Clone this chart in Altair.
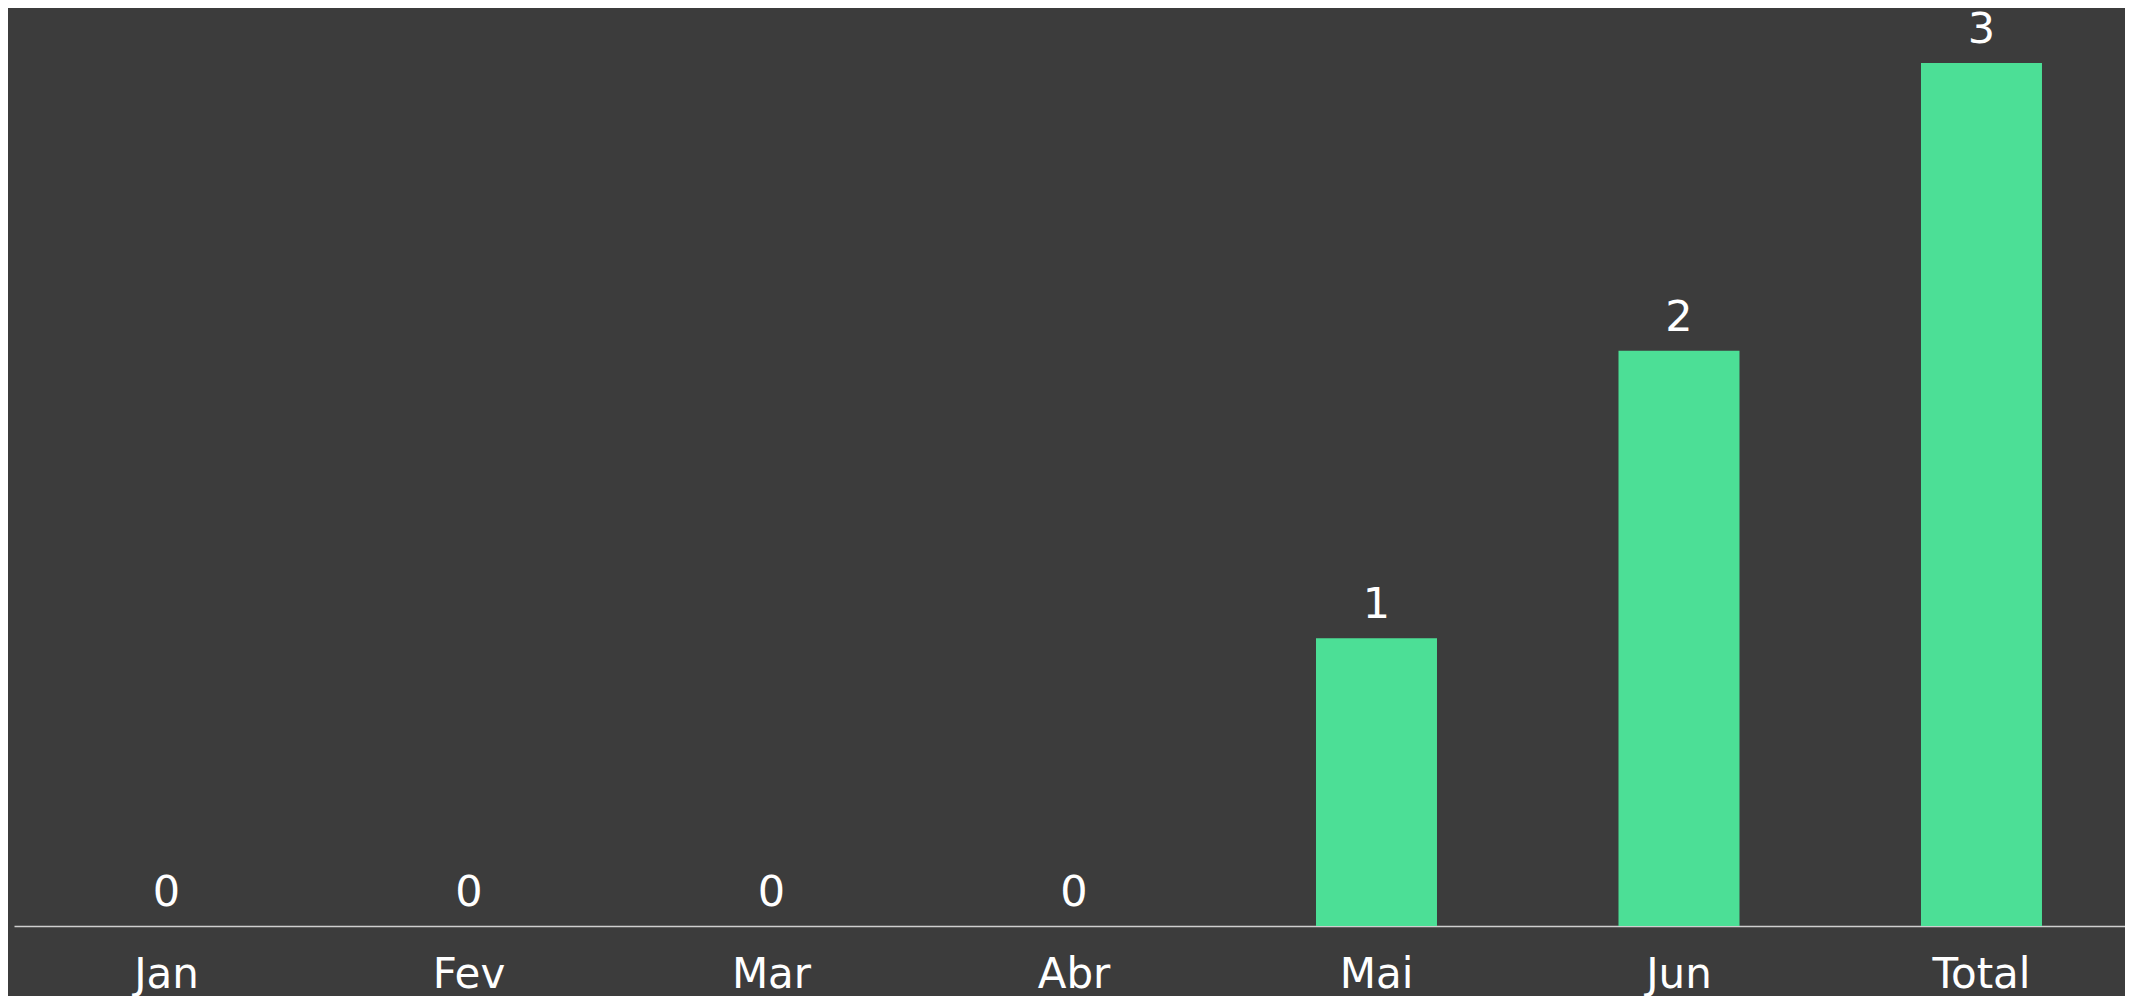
import altair as alt
import pandas as pd

categories = ["Jan", "Fev", "Mar", "Abr", "Mai", "Jun", "Total"]
values = [0, 0, 0, 0, 1, 2, 3]

df = pd.DataFrame({"mes": categories, "valor": values})

BG = "#3c3c3c"
BAR = "#4cdf96"
FONT = "DejaVu Sans"

x_enc = alt.X(
    "mes:N",
    sort=categories,
    title=None,
    scale=alt.Scale(paddingInner=0.6, paddingOuter=0.2893, align=0.5257),
    axis=alt.Axis(
        labelAngle=0,
        labelFontSize=42,
        labelFont=FONT,
        labelColor="#ffffff",
        labelBaseline="alphabetic",
        labelPadding=61,
        ticks=False,
        tickSize=0,
        domainColor="#cfcfcf",
        domainWidth=1.5,
        grid=False,
    ),
)
y_enc = alt.Y(
    "valor:Q",
    title=None,
    scale=alt.Scale(domain=[0, 3], nice=False),
    axis=None,
)

bars = alt.Chart(df).mark_bar(color=BAR).encode(x=x_enc, y=y_enc)
labels = alt.Chart(df).mark_text(
    font=FONT, fontSize=43, color="#ffffff", baseline="alphabetic", align="center", dy=-20
).encode(x=alt.X("mes:N", sort=categories), y="valor:Q", text="valor:Q")

chart = (
    alt.layer(bars, labels)
    .properties(
        width=2111,
        height=863,
        background=BG,
        padding={"left": 6, "top": 55, "right": 0, "bottom": 70},
        autosize=alt.AutoSizeParams(type="none"),
    )
    .configure_view(strokeWidth=0)
)

chart.save("out.html", embed_options={"renderer": "svg", "actions": False})
